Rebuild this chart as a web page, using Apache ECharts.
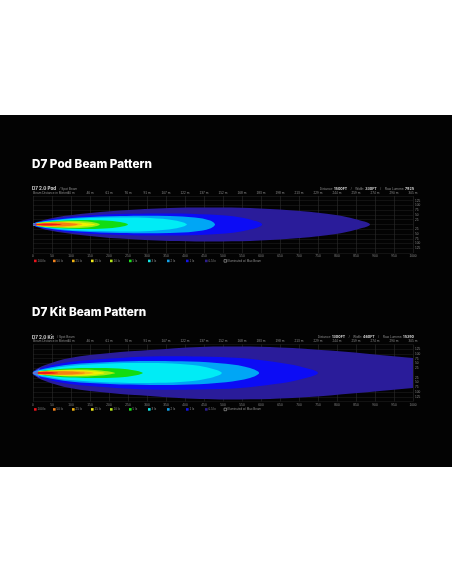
<!DOCTYPE html>
<html><head><meta charset="utf-8">
<script src="https://cdn.jsdelivr.net/npm/echarts@6/dist/echarts.min.js"></script>
<style>html,body{margin:0;padding:0;background:#fff;width:452px;height:584px;overflow:hidden}
#c{position:absolute;left:0;top:115px;width:452px;height:352px;background:#030303}</style>
</head><body><div id="c"></div><script>
// ---- data ----
const distTicksFt = ['0','50','100','150','200','250','300','350','400','450','500','550','600','650','700','750','800','850','900','950','1000'];
const distTicksM = ['','','30 m','46 m','61 m','76 m','91 m','107 m','122 m','137 m','152 m','168 m','183 m','198 m','213 m','229 m','244 m','259 m','274 m','290 m','305 m'];
const widthTicks = ['','125','100','75','50','25','','25','50','75','100','125',''];
const legendLabels = ['100 lx','50 lx','25 lx','15 lx','10 lx','5 lx','3 lx','2 lx','1 lx','0.5 lx'];
const legendColors = ['#e8141c','#f0821e','#f0b414','#f0ea1e','#b4e61e','#1ee11e','#14e6e6','#14a0e6','#1414e6','#2d1e8c'];
const outlineLabel = 'Illuminated w/ Max Beam';
// beam contour colors, outer -> inner (0.5 lx ... 100 lx)
const beamColors = ['#2a1c9a','#0c0cf5','#00a6f5','#00ecf5','#12dc12','#a8ec10','#f0f000','#f8bc10','#f88010','#f01818'];
// Pod contours: [distance ft, half width]
const podPurple = [[0,5],[45,32],[124,55],[229,74],[360,87],[497,89],[597,84],[703,71],[797,50],[847,29],[887,0]];
const podBlue = [[0,5],[45,26],[124,45],[229,55],[360,58],[465,52],[547,37],[603,0]];
const podDeepsky = [[0,4],[45,22],[124,37],[229,45],[360,45],[426,37],[466,21],[479,0]];
const podCyan = [[0,4],[45,18],[124,32],[229,37],[308,34],[374,21],[405,0]];
const podGreen = [[0,3],[45,16],[124,24],[189,21],[229,13],[250,0]];
const podYellowGreen = [[0,2],[45,13],[110,18],[155,13],[176,0]];
const podYellow = [[0,2],[32,10],[84,13],[137,8],[163,0]];
const podGold = [[0,2],[20,7],[58,11],[100,10],[130,0]];
const podOrange = [[0,2],[13,5],[45,9],[84,9],[118,0]];
const podRed = [[0,1],[13,3],[32,5],[58,4],[76,0]];
// Kit contours (outer beam continues past the plot edge)
const kitPurple = [[0,8],[32,42],[97,79],[203,105],[308,121],[439,137],[545,139],[650,134],[781,118],[913,95],[1000,79],[1080,68],[1120,0]];
const kitBlue = [[0,5],[32,32],[97,58],[203,76],[308,87],[439,87],[545,79],[637,58],[703,34],[750,0]];
const kitDeepsky = [[0,5],[32,24],[97,45],[203,58],[308,63],[413,60],[508,48],[571,26],[595,0]];
const kitCyan = [[0,4],[32,18],[97,37],[203,50],[308,52],[387,47],[453,32],[497,0]];
const kitGreen = [[0,3],[32,13],[97,24],[176,26],[242,21],[289,0]];
const kitYellowGreen = [[0,3],[32,11],[97,18],[163,16],[216,0]];
const kitYellow = [[0,2],[18,8],[71,13],[137,13],[189,0]];
const kitGold = [[0,2],[20,7],[71,11],[120,10],[160,0]];
const kitOrange = [[0,2],[8,5],[45,9],[97,8],[137,0]];
const kitRed = [[0,1],[10,4],[32,6],[66,0]];
const charts = [
  {title:'D7 Pod Beam Pattern', model:'D7 2.0 Pod', beam:'/ Spot Beam', distance:'1500FT', width:'330FT', lumens:'7925',
   shapes:[podPurple,podBlue,podDeepsky,podCyan,podGreen,podYellowGreen,podYellow,podGold,podOrange,podRed]},
  {title:'D7 Kit Beam Pattern', model:'D7 2.0 Kit', beam:'/ Spot Beam', distance:'1300FT', width:'460FT', lumens:'15390',
   shapes:[kitPurple,kitBlue,kitDeepsky,kitCyan,kitGreen,kitYellowGreen,kitYellow,kitGold,kitOrange,kitRed]}
];
// ---- layout ----
const gridTops = [80.9, 229.4];
const titleY = [49.5, 198];
const GH = 57.2;
const tiny = {fontFamily:'Liberation Sans', fontSize:3.2, color:'#8a8a8a'};

const grids=[], xAxes=[], yAxes=[], series=[], graphics=[];
charts.forEach((c,gi)=>{
  const top = gridTops[gi];
  grids.push({left:33, width:380, top:top, height:GH});
  xAxes.push({type:'value', gridIndex:gi, min:0, max:1000, interval:50, position:'bottom',
    axisLine:{show:false}, axisTick:{show:false},
    splitLine:{show:true, lineStyle:{color:'#2b2b2b', width:0.6}},
    axisLabel:Object.assign({margin:1.6, formatter:v=>distTicksFt[Math.round(v/50)]}, tiny)});
  xAxes.push({type:'value', gridIndex:gi, min:0, max:1000, interval:50, position:'top',
    axisLine:{show:false}, axisTick:{show:false}, splitLine:{show:false},
    axisLabel:Object.assign({margin:1.4, formatter:v=>distTicksM[Math.round(v/50)]}, tiny)});
  yAxes.push({type:'value', gridIndex:gi, min:-150, max:150, interval:25, position:'right',
    axisLine:{show:false}, axisTick:{show:false},
    splitLine:{show:true, lineStyle:{color:'#1c1c1c', width:0.6}},
    axisLabel:Object.assign({margin:2, formatter:v=>widthTicks[Math.round((150-v)/25)]}, tiny)});
  const shapes = c.shapes;
  series.push({type:'custom', coordinateSystem:'cartesian2d', xAxisIndex:gi*2, yAxisIndex:gi, silent:true, animation:false, clip:true,
    data: shapes.map(s=>[s[0][0],0]),
    renderItem(params, api){
      const s = shapes[params.dataIndex];
      const up = s.map(p=>api.coord([p[0],p[1]]));
      const lo = s.filter(p=>p[1]>0).map(p=>api.coord([p[0],-p[1]])).reverse();
      return {type:'polygon', shape:{points:up.concat(lo), smooth:0.35}, style:{fill:beamColors[params.dataIndex]}};
    }});
  series.push({type:'scatter', xAxisIndex:gi*2, yAxisIndex:gi, silent:true, animation:false,
    symbol:'path://M10,0 L0,5 L10,10 L7,5 Z', symbolSize: gi===0?[5,6]:[8,10], symbolOffset:[gi===0?2:3,0],
    itemStyle:{color: gi===0?'#2a4cff':'#3d7cff'}, data:[[0,0]]});
  // texts
  graphics.push({type:'text', left:32, top:titleY[gi]-6.5, style:{text:c.title, fill:'#fff', font:'800 11.7px Inter'}});
  graphics.push({type:'text', x:32, y:top-7.2, style:{text:'{a|'+c.model+'} {b|'+c.beam+'}', verticalAlign:'middle',
    rich:{a:{fontFamily:'Inter', fontWeight:'bold', fontSize:4.6, fill:'#d8d8d8'}, b:{fontFamily:'Liberation Sans', fontSize:3.2, fill:'#8a8a8a'}}}});
  graphics.push({type:'text', x:414, y:top-7.2, style:{align:'right', verticalAlign:'middle',
    text:'{b|Distance: }{a|'+c.distance+'}{b|    /    Width: }{a|'+c.width+'}{b|    /    Raw Lumens: }{a|'+c.lumens+'}',
    rich:{a:{fontFamily:'Inter', fontWeight:'bold', fontSize:3.6, fill:'#d0d0d0'}, b:{fontFamily:'Liberation Sans', fontSize:3.2, fill:'#8a8a8a'}}}});
  graphics.push({type:'text', x:33, y:top-3, style:{text:'Beam Distance in Meters', verticalAlign:'middle', fill:'#8a8a8a', font:'3.2px Liberation Sans'}});
  // legend
  const ly = top+GH+7.8;
  legendLabels.forEach((lab,i)=>{
    graphics.push({type:'rect', shape:{x:34+i*19, y:ly-1.3, width:2.6, height:2.6}, style:{fill:legendColors[i]}});
    graphics.push({type:'text', x:37.6+i*19, y:ly, style:{text:lab, verticalAlign:'middle', fill:'#8a8a8a', font:'3px Liberation Sans'}});
  });
  graphics.push({type:'rect', shape:{x:34+10*19, y:ly-1.3, width:2.6, height:2.6}, style:{fill:'none', stroke:'#cfcfcf', lineWidth:0.5}});
  graphics.push({type:'text', x:37.6+10*19, y:ly, style:{text:outlineLabel, verticalAlign:'middle', fill:'#8a8a8a', font:'3px Liberation Sans'}});
});

const chart = echarts.init(document.getElementById('c'), null, {renderer:'canvas'});
chart.setOption({backgroundColor:'#030303', animation:false, grid:grids, xAxis:xAxes, yAxis:yAxes, series:series, graphic:graphics});
</script></body></html>
